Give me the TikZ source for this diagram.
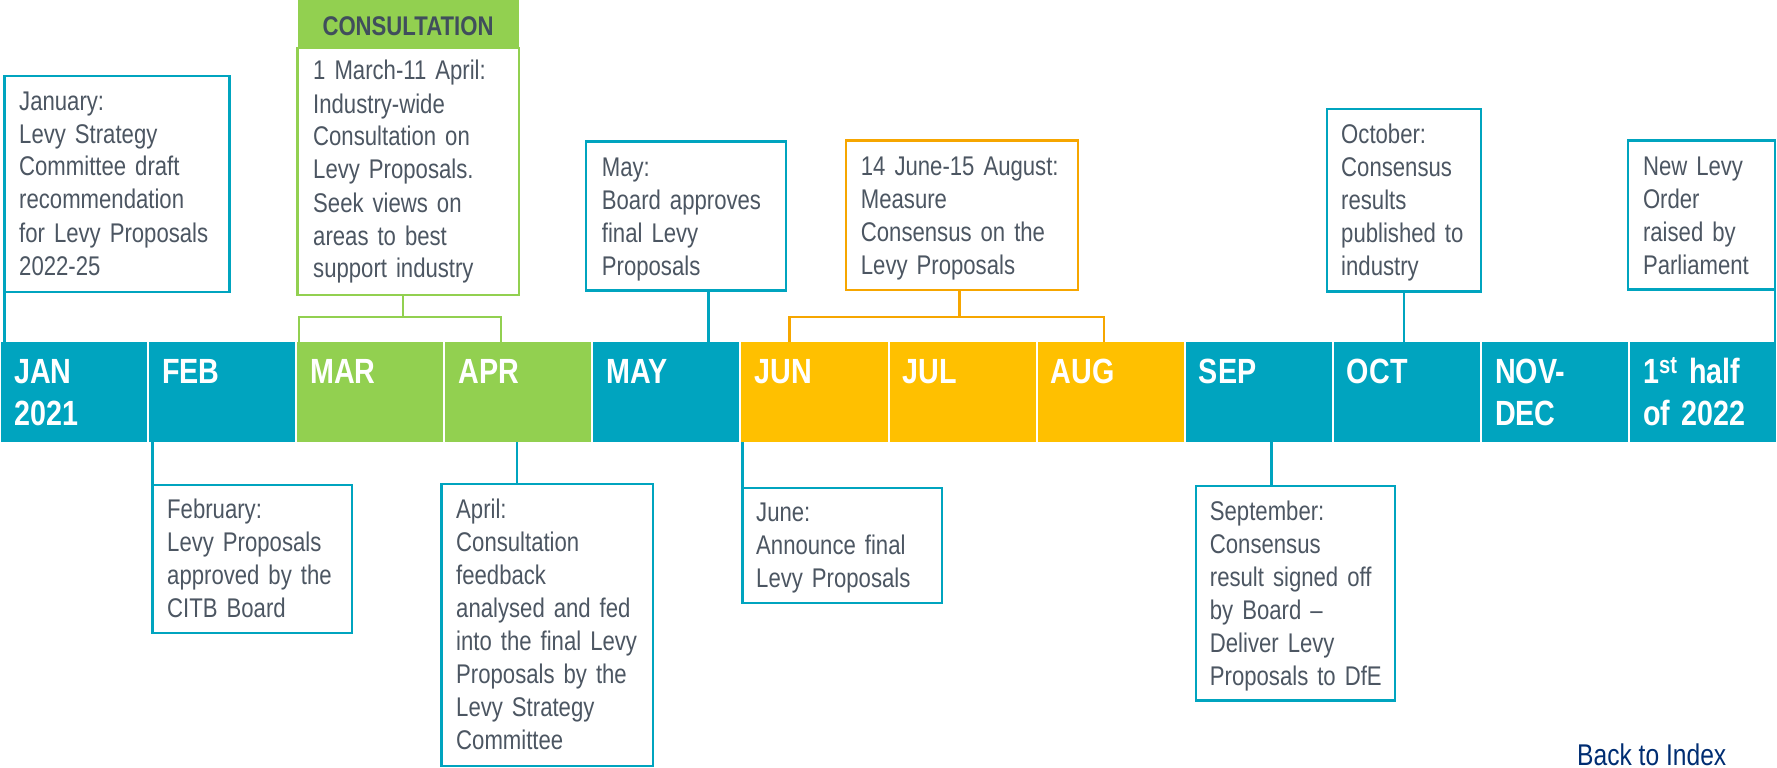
\documentclass[tikz,border=0pt]{standalone}
\usepackage{fontspec}
\setmainfont{Liberation Sans}[FakeStretch=0.82]
\usetikzlibrary{calc}
\definecolor{cteal}{RGB}{0,164,191}
\definecolor{cgreen}{RGB}{146,208,80}
\definecolor{cyel}{RGB}{255,192,0}
\definecolor{corange}{RGB}{246,166,0}
\definecolor{ctext}{RGB}{76,86,98}
\definecolor{chead}{RGB}{64,78,92}
\definecolor{cnavy}{RGB}{0,45,114}
\begin{document}
\begin{tikzpicture}[x=1pt,y=-1pt,
  cell/.style={rectangle, inner sep=0pt, outer sep=0pt, anchor=north west, minimum height=100pt, minimum width=146.1pt},
  mlabel/.style={anchor=base west, inner sep=0pt, text width=128pt, align=left, text=white, font=\fontsize{35}{42}\selectfont\bfseries},
  evbox/.style={draw=#1, line width=2.5pt, rectangle, inner sep=0pt, outer sep=0pt, anchor=north west, fill=white},
  evtext/.style={anchor=base west, inner sep=0pt, text width=#1, align=left, text=ctext, font=\fontsize{27}{33}\selectfont},
  conn/.style={draw=#1, line width=2.4pt},
]
\useasboundingbox (0,0) rectangle (1777,768);

% timeline bar
\foreach \nm/\col [count=\i from 0] in {jan/cteal, feb/cteal, mar/cgreen, apr/cgreen, may/cteal, jun/cyel, jul/cyel, aug/cyel, sep/cteal, oct/cteal, nov/cteal, hlf/cteal}
  \node[cell, fill=\col] (\nm) at ({\i*148.083+1}, 342) {};

\node[mlabel] (janl) at ($(jan.north west)+(13,41)$) {JAN\\2021};
\node[mlabel] (febl) at ($(feb.north west)+(13,41)$) {FEB};
\node[mlabel] (marl) at ($(mar.north west)+(13,41)$) {MAR};
\node[mlabel] (aprl) at ($(apr.north west)+(13,41)$) {APR};
\node[mlabel] (mayl) at ($(may.north west)+(13,41)$) {MAY};
\node[mlabel] (junl) at ($(jun.north west)+(13,41)$) {JUN};
\node[mlabel] (jull) at ($(jul.north west)+(13,41)$) {JUL};
\node[mlabel] (augl) at ($(aug.north west)+(13,41)$) {AUG};
\node[mlabel] (sepl) at ($(sep.north west)+(13,41)$) {SEP};
\node[mlabel] (octl) at ($(oct.north west)+(13,41)$) {OCT};
\node[mlabel] (novl) at ($(nov.north west)+(13,41)$) {NOV-\\DEC};
\node[mlabel] (hlfl) at ($(hlf.north west)+(13,41)$) {1\textsuperscript{st} half\\of 2022};

% upper boxes
\node[evbox=cteal, minimum width=225pt, minimum height=216pt] (jbox) at (4.6,76) {};
\node[evtext=205pt] (jtxt) at (19,110) {January:\\Levy Strategy\\Committee draft\\recommendation\\for Levy Proposals\\2022-25};

\node[fill=cgreen, anchor=north west, inner sep=0pt, outer sep=0pt, minimum width=221pt, minimum height=47pt] (chd) at (297.7,0.5) {};
\node[anchor=base, inner sep=0pt, text=chead, font=\fontsize{27}{33}\selectfont\bfseries] (chdt) at (408,36) {CONSULTATION};
\node[evbox=cgreen, minimum width=221.3pt, minimum height=247pt] (cbox) at (297.7,48) {};
\node[evtext=200pt] (ctxt) at (313,80) {1 March-11 April:\\Industry-wide\\Consultation on\\Levy Proposals.\\Seek views on\\areas to best\\support industry};

\node[evbox=cteal, minimum width=200pt, minimum height=149pt] (mbox) at (586,141.7) {};
\node[evtext=180pt] (mtxt) at (601.7,176) {May:\\Board approves\\final Levy\\Proposals};

\node[evbox=corange, minimum width=232pt, minimum height=149.3pt] (obox) at (846,140.7) {};
\node[evtext=212pt] (otxt) at (860.7,175) {14 June-15 August:\\Measure\\Consensus on the\\Levy Proposals};

\node[evbox=cteal, minimum width=154pt, minimum height=182.7pt] (kbox) at (1327,109) {};
\node[evtext=140pt] (ktxt) at (1341,143.3) {October:\\Consensus\\results\\published to\\industry};

\node[evbox=cteal, minimum width=147pt, minimum height=148.6pt] (nbox) at (1628,140.7) {};
\node[evtext=132pt] (ntxt) at (1642.8,175) {New Levy\\Order\\raised by\\Parliament};

% lower boxes
\node[evbox=cteal, minimum width=199.4pt, minimum height=148pt] (fbox) at (152.4,485) {};
\node[evtext=182pt] (ftxt) at (167,518) {February:\\Levy Proposals\\approved by the\\CITB Board};

\node[evbox=cteal, minimum width=211.7pt, minimum height=282pt] (abox) at (441.3,484) {};
\node[evtext=195pt] (atxt) at (456,518.3) {April:\\Consultation\\feedback\\analysed and fed\\into the final Levy\\Proposals by the\\Levy Strategy\\Committee};

\node[evbox=cteal, minimum width=199.2pt, minimum height=115pt] (ubox) at (742.6,488) {};
\node[evtext=182pt] (utxt) at (756,521.7) {June:\\Announce final\\Levy Proposals};

\node[evbox=cteal, minimum width=199pt, minimum height=214.7pt] (sbox) at (1196,486) {};
\node[evtext=184pt] (stxt) at (1209.7,520) {September:\\Consensus\\result signed off\\by Board --\\Deliver Levy\\Proposals to DfE};

% connectors
\draw[conn=cteal] (jbox.south west) -- (jbox.south west |- jan.north);
\draw[conn=cteal] ([xshift=-77.5pt]mbox.south east) -- ([xshift=-77.5pt]mbox.south east |- may.north);
\draw[conn=cteal] (kbox.south) -- (kbox.south |- oct.north);
\draw[conn=cteal] (nbox.south east) -- (nbox.south east |- hlf.north);
\draw[conn=cteal] (fbox.north west |- feb.south) -- (fbox.north west);
\draw[conn=cteal] ([xshift=75.7pt]abox.north west |- apr.south) -- ([xshift=75.7pt]abox.north west);
\draw[conn=cteal] (ubox.north west |- jun.south) -- (ubox.north west);
\draw[conn=cteal] ([xshift=75.5pt]sbox.north west |- sep.south) -- ([xshift=75.5pt]sbox.north west);

% brackets
\coordinate (cbm) at (403,317);
\coordinate (cbl) at (298.9,317);
\coordinate (cbr) at (501,317);
\draw[conn=cgreen] (cbox.south -| cbm) -- (cbm);
\draw[conn=cgreen, line join=miter] (cbl |- mar.north) -- (cbl) -- (cbr) -- (cbr |- apr.north);

\coordinate (obm) at (959.6,317);
\coordinate (obl) at (789.6,317);
\coordinate (obr) at (1104,317);
\draw[conn=corange] (obox.south -| obm) -- (obm);
\draw[conn=corange, line join=miter] (obl |- jun.north) -- (obl) -- (obr) -- (obr |- aug.north);

% footer
\node[anchor=base west, inner sep=0pt, text=cnavy, font=\fontsize{30}{36}\selectfont] (back) at (1577,765) {Back to Index};
\end{tikzpicture}
\end{document}
